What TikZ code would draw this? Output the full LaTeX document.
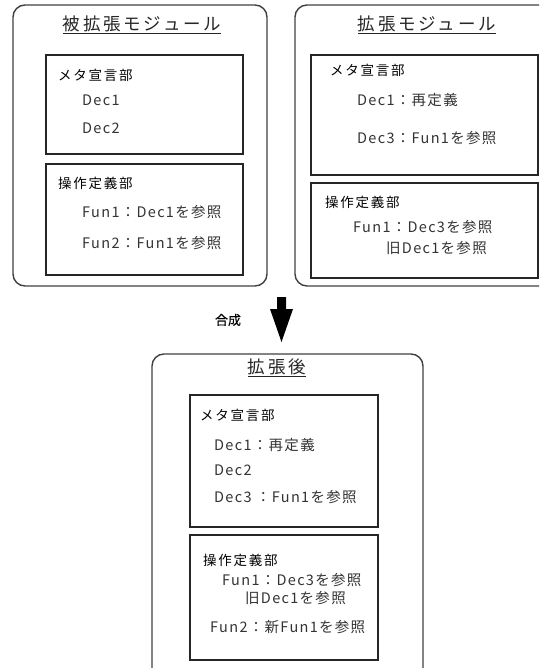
\documentclass[tikz,border=0pt]{standalone}
\usepackage{fontspec}
\setmainfont{Noto Sans CJK JP}
\newfontfamily\ttlfont[LetterSpace=16]{Noto Sans CJK JP}
\newfontfamily\hdfont[LetterSpace=13]{Noto Sans CJK JP}
\newfontfamily\txfont[LetterSpace=9]{Noto Sans CJK JP}
\newfontfamily\lbfont[FakeBold=0.3]{Noto Sans CJK JP}
\begin{document}
\begin{tikzpicture}[x=1pt,y=-1pt,
  outerbox/.style={draw=black!75,line width=1.4pt,rounded corners=12pt},
  innerbox/.style={draw=black!85,line width=1.1pt},
  ttl/.style={font=\ttlfont\fontsize{17.5}{19}\selectfont,text=black!85,inner sep=0pt},
  hd/.style={font=\hdfont\fontsize{13.5}{15}\selectfont,text=black,anchor=west,inner sep=0pt},
  tx/.style={font=\txfont\fontsize{14.5}{16}\selectfont,text=black!80,anchor=west,inner sep=0pt},
  lbl/.style={font=\lbfont\fontsize{13}{15}\selectfont,text=black,inner sep=0pt}]
\useasboundingbox (0,0) rectangle (539,668);
\clip (0,0) rectangle (539,668);
% left module
\draw[outerbox] (13,5) rectangle (267,286);
\draw[innerbox] (46,55) rectangle (243,154);
\draw[innerbox] (46,164) rectangle (243,275);
\node[ttl] (t1) at (142,25) {\underline{被拡張モジュール}};
\node[hd] (l1) at (58,75) {メタ宣言部};
\node[tx] (l2) at (82,100) {Dec1};
\node[tx] (l3) at (82,128) {Dec2};
\node[hd] (l4) at (58,183) {操作定義部};
\node[tx] (l5) at (82,212) {Fun1：Dec1を参照};
\node[tx] (l6) at (82,243) {Fun2：Fun1を参照};
% right module
\draw[outerbox] (295,5) rectangle (560,286);
\draw[innerbox] (311,55) rectangle (538,175);
\draw[innerbox] (311,183) rectangle (538,278);
\node[ttl] (t2) at (427,25) {\underline{拡張モジュール}};
\node[hd] (r1) at (330,70) {メタ宣言部};
\node[tx] (r2) at (357,100) {Dec1：再定義};
\node[tx] (r3) at (357,138) {Dec3：Fun1を参照};
\node[hd] (r4) at (325,202) {操作定義部};
\node[tx] (r5) at (353,227) {Fun1：Dec3を参照};
\node[tx] (r6) at (386,248) {旧Dec1を参照};
% arrow
\fill[black] (277,297) -- (286,297) -- (286,309) -- (293,309) -- (281.5,342) -- (270,309) -- (277,309) -- cycle;
\node[lbl] (m) at (228,320) {合成};
% result
\draw[outerbox] (152,354) rectangle (423,690);
\draw[innerbox] (190,395) rectangle (378,527);
\draw[innerbox] (190,535) rectangle (378,660);
\node[ttl] (t3) at (277,368) {\underline{拡張後}};
\node[hd] (b1) at (200,415) {メタ宣言部};
\node[tx] (b2) at (214,445) {Dec1：再定義};
\node[tx] (b3) at (214,470) {Dec2};
\node[tx] (b4) at (214,497) {Dec3 ：Fun1を参照};
\node[hd] (b5) at (203,560) {操作定義部};
\node[tx] (b6) at (222,580) {Fun1：Dec3を参照};
\node[tx] (b7) at (245,598) {旧Dec1を参照};
\node[tx] (b8) at (210,627) {Fun2：新Fun1を参照};
\end{tikzpicture}
\end{document}
